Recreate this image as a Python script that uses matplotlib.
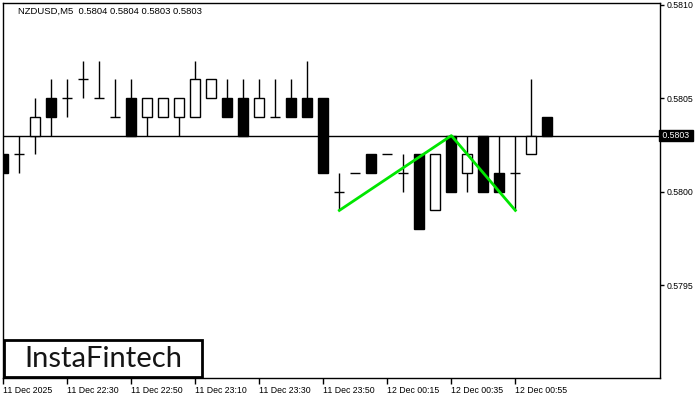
#NZDUSD M5 candlestick chart with the double bottom outline
import matplotlib
matplotlib.use("Agg")
import matplotlib.pyplot as plt
from matplotlib.patches import Rectangle
import numpy as np

#Candle data, oldest first
opens  = [0.5802, 0.5802, 0.5803, 0.5805, 0.5805, 0.5806, 0.5805, 0.5804, 0.5805, 0.5804,
          0.5804, 0.5804, 0.5804, 0.5805, 0.5805, 0.5805, 0.5804, 0.5804, 0.5805, 0.5805,
          0.5805, 0.5800, 0.5801, 0.5802, 0.5802, 0.5801, 0.5802, 0.5799, 0.5803, 0.5801,
          0.5803, 0.5801, 0.5801, 0.5802, 0.5804]
highs  = [0.5802, 0.5803, 0.5805, 0.5806, 0.5806, 0.5807, 0.5807, 0.5806, 0.5806, 0.5805,
          0.5805, 0.5805, 0.5807, 0.5806, 0.5806, 0.5806, 0.5806, 0.5806, 0.5806, 0.5807,
          0.5805, 0.5801, 0.5801, 0.5802, 0.5802, 0.5802, 0.5802, 0.5802, 0.5803, 0.5803,
          0.5803, 0.5803, 0.5803, 0.5806, 0.5804]
lows   = [0.5801, 0.5801, 0.5802, 0.5803, 0.5804, 0.5805, 0.5805, 0.5804, 0.5803, 0.5803,
          0.5804, 0.5803, 0.5804, 0.5805, 0.5804, 0.5803, 0.5804, 0.5804, 0.5804, 0.5804,
          0.5801, 0.5799, 0.5801, 0.5801, 0.5802, 0.5800, 0.5798, 0.5799, 0.5800, 0.5800,
          0.5800, 0.5800, 0.5799, 0.5802, 0.5803]
closes = [0.5801, 0.5802, 0.5804, 0.5804, 0.5805, 0.5806, 0.5805, 0.5804, 0.5803, 0.5805,
          0.5805, 0.5805, 0.5806, 0.5806, 0.5804, 0.5803, 0.5805, 0.5804, 0.5804, 0.5804,
          0.5801, 0.5800, 0.5801, 0.5801, 0.5802, 0.5801, 0.5798, 0.5802, 0.5800, 0.5802,
          0.5800, 0.5800, 0.5801, 0.5803, 0.5803]

#Double bottom pattern points (candle index, price)
pattern_idx = [21, 28, 32]
pattern_price = [0.5799, 0.5803, 0.5799]

current_price = 0.5803

time_idx = [0, 4, 8, 12, 16, 20, 24, 28, 32]
time_labels = ["11 Dec 2025", "11 Dec 22:30", "11 Dec 22:50", "11 Dec 23:10", "11 Dec 23:30",
               "11 Dec 23:50", "12 Dec 00:15", "12 Dec 00:35", "12 Dec 00:55"]

price_ticks = [0.5795, 0.5800, 0.5805, 0.5810]

header = "NZDUSD,M5  0.5804 0.5804 0.5803 0.5803"

#Setup figure
fig = plt.figure(figsize=(7, 4), dpi=100)
ax = fig.add_axes([3/700, 22/400, 657/700, 375/400])
ax.set_xlim(-0.02, 41.04)
ax.set_ylim(0.579004, 0.581009)

x = np.arange(len(opens))
o = np.array(opens); h = np.array(highs); l = np.array(lows); c = np.array(closes)
bw = 0.64

#Current price line
ax.axhline(current_price, color="black", lw=1, zorder=1)

#Wicks
ax.vlines(x, l, h, color="black", lw=1, zorder=2)

#Bodies (doji drawn as a dash)
doji = np.isclose(o, c)
body = ~doji
face = np.where(c[body] > o[body], "white", "black")
ax.bar(x[body], np.abs(c[body] - o[body]), bottom=np.minimum(o[body], c[body]),
       width=bw, color=face, edgecolor="black", linewidth=1, zorder=3)
ax.hlines(o[doji], x[doji] - bw/2, x[doji] + bw/2, color="black", lw=1, zorder=3)

#Pattern outline
ax.plot(pattern_idx, pattern_price, color="#00e600", lw=2, zorder=4)

#Axes styling
for s in ax.spines.values():
    s.set_linewidth(1)
    s.set_color("black")
ax.yaxis.tick_right()
ax.set_yticks(price_ticks)
ax.set_yticklabels(["%.4f" % p for p in price_ticks], fontsize=6.3, family="Liberation Sans")
ax.tick_params(axis="y", direction="out", length=3, width=1, pad=2)
ax.set_xticks(time_idx)
ax.set_xticklabels(time_labels, fontsize=6.3, family="Liberation Sans", ha="left")
ax.tick_params(axis="x", direction="out", length=4, width=1, pad=2)

#Current price tag
ax.text(1.0, current_price, " %.4f " % current_price, transform=ax.get_yaxis_transform(),
        fontsize=6.3, family="Liberation Sans", color="white", va="center", ha="left",
        bbox=dict(boxstyle="square,pad=0.15", fc="black", ec="black"), zorder=10, clip_on=False)

#Header text
fig.text(18/700, 1 - 11/400, header, fontsize=6.8, family="Liberation Sans", va="center", ha="left")

#Logo box and text
ax.add_patch(Rectangle((1/657, 1/375), 198/657, 37/375, transform=ax.transAxes,
                       fc="white", ec="black", lw=2, zorder=10))
ax.text(100/657, 19/375, "InstaFintech", transform=ax.transAxes, fontsize=21, family="Lato",
        va="center", ha="center", color="#151515", zorder=11)

fig.savefig("out.png", dpi=100)
